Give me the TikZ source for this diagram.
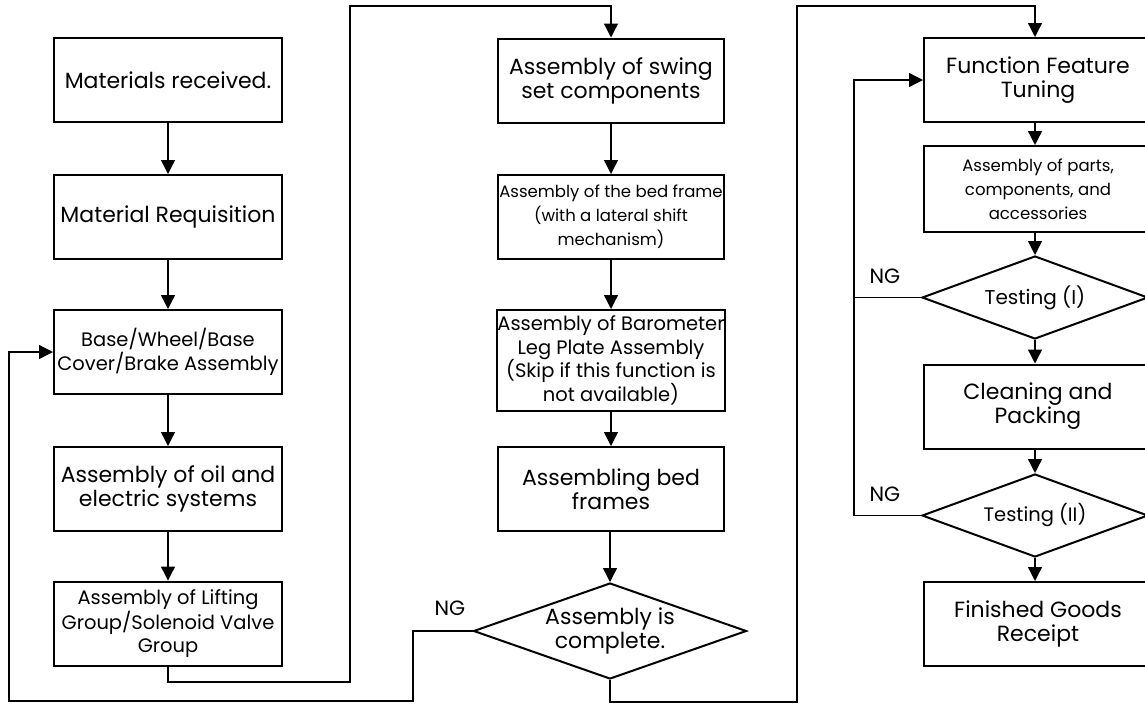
\documentclass[tikz,border=0pt]{standalone}
\usepackage{fontspec}
\setmainfont{Poppins}
\usetikzlibrary{arrows.meta,shapes.geometric}
\begin{document}
\begin{tikzpicture}[x=0.75pt,y=-0.75pt,
  box/.style={draw,line width=1.5pt,rectangle,align=center,inner sep=0pt,minimum height=63pt},
  col1/.style={box,minimum width=171pt},
  col2/.style={box,minimum width=170pt},
  col3/.style={box,minimum width=171pt},
  dia/.style={draw,line width=1.5pt,diamond,align=center,inner sep=0pt},
  big/.style={font=\fontsize{16.5}{18}\selectfont},
  mid/.style={font=\fontsize{14.6}{17.6}\selectfont},
  small/.style={font=\fontsize{12.4}{18}\selectfont},
  lbl/.style={font=\fontsize{15.5}{18}\selectfont},
  line/.style={line width=1pt},
  arr/.style={line width=1pt,-{Triangle[length=10.5pt,width=10.5pt]}}
]
\useasboundingbox (0,0) rectangle (1145,704);
% column 1
\node[col1,big] (b1) at (168,80) {Materials received.};
\node[col1,big] (b2) at (168,217) {Material Requisition};
\node[col1,mid] (b3) at (168,352) {Base/Wheel/Base\\Cover/Brake Assembly};
\node[col1,big] (b4) at (168,489) {Assembly of oil and\\electric systems};
\node[col1,mid] (b5) at (168,623.5) {Assembly of Lifting\\Group/Solenoid Valve\\Group};
% column 2
\node[col2,big] (b6) at (611,80.5) {Assembly of swing\\set components};
\node[col2,small] (b7) at (611,217) {Assembly of the bed frame\\(with a lateral shift\\mechanism)};
\node[col2,mid,minimum height=75.75pt] (b8) at (611,360.5) {Assembly of Barometer\\Leg Plate Assembly\\(Skip if this function is\\not available)};
\node[col2,big] (b9) at (611,489) {Assembling bed\\frames};
\node[dia,big,minimum width=204.75pt,minimum height=72pt,aspect=2.84] (d1) at (610,631) {Assembly is\\complete.};
% column 3
\node[col3,big,anchor=west] (b10) at (923,80) {Function Feature\\Tuning};
\node[col3,small,minimum height=64.5pt,anchor=west] (b11) at (923,189) {Assembly of parts,\\components, and\\accessories};
\node[dia,font=\fontsize{15}{18}\selectfont,minimum width=169.5pt,minimum height=62.25pt,aspect=2.72] (t1) at (1035,297.5) {Testing (I)};
\node[col3,big,anchor=west] (b12) at (923,406.5) {Cleaning and\\Packing};
\node[dia,font=\fontsize{14.6}{18}\selectfont,minimum width=169.5pt,minimum height=62.25pt,aspect=2.72] (t2) at (1035,515.5) {Testing (II)};
\node[col3,big,anchor=west] (b13) at (923,624) {Finished Goods\\Receipt};
% labels
\node[lbl] (ng1) at (450,608) {NG};
\node[lbl] (ng2) at (885,276) {NG};
\node[lbl] (ng3) at (885,494) {NG};
% straight arrows
\draw[arr] (b1) -- (b2);
\draw[arr] (b2) -- (b3);
\draw[arr] (b3) -- (b4);
\draw[arr] (b4) -- (b5);
\draw[arr] (b6) -- (b7);
\draw[arr] (b7) -- (b8);
\draw[arr] (b8) -- (b9);
\draw[arr] (b9.south -| d1.north) -- (d1.north);
\draw[arr] (b10.south -| t1.north) -- (b11.north -| t1.north);
\draw[arr] (b11.south -| t1.north) -- (t1.north);
\draw[arr] (t1.south) -- (b12.north -| t1.south);
\draw[arr] (b12.south -| t2.north) -- (t2.north);
\draw[arr] (t2.south) -- (b13.north -| t2.south);
% long connectors
\coordinate (p1) at (350,682);
\coordinate (p2) at (350,6);
\draw[arr] (b5.south) |- (p1) -- (p2) -| (b6.north);
\coordinate (q1) at (413,701);
\coordinate (q2) at (9,701);
\draw[arr] (d1.west) -| (q1) -- (q2) |- (b3.west);
\coordinate (r1) at (797,702);
\coordinate (r2) at (797,6);
\draw[arr] (d1.south) |- (r1) -- (r2) -| (t1.north |- b10.north);
\coordinate (s1) at (854,200);
\draw[arr] (t1.west) -| (s1) |- (b10.west);
\draw[line] (t2.west) -| (s1);
\end{tikzpicture}
\end{document}
